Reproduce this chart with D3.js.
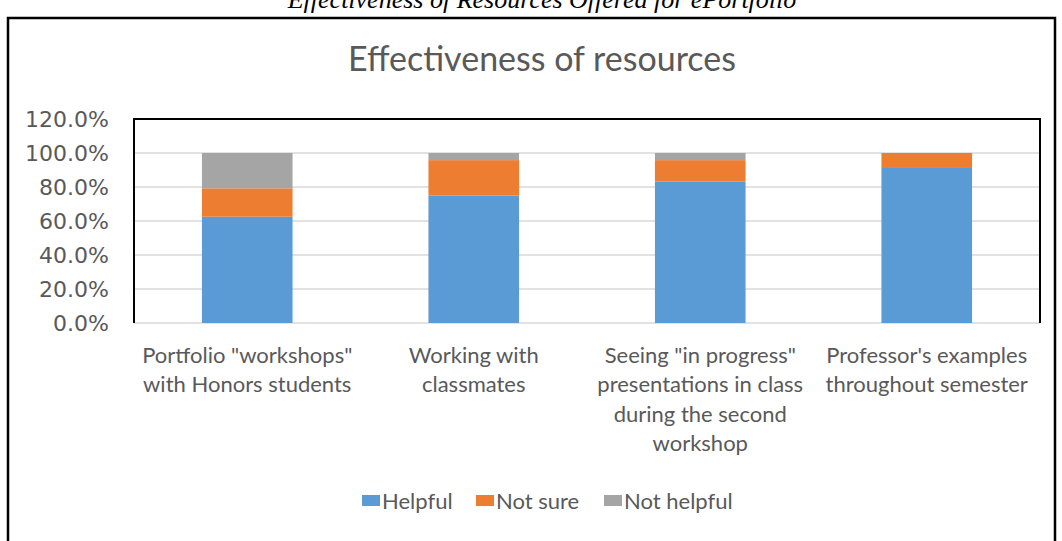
<!DOCTYPE html>
<html>
<head>
<meta charset="utf-8">
<script src="https://cdn.jsdelivr.net/npm/d3@7"></script>
<style>
  body { margin: 0; background: #fff; }
  svg { display: block; }
</style>
</head>
<body>
<div class="container"></div>
<script>
const categories = [
    ["Portfolio \"workshops\"", "with Honors students"],
    ["Working with", "classmates"],
    ["Seeing \"in progress\"", "presentations in class", "during the second", "workshop"],
    ["Professor's examples", "throughout semester"]
];
const seriesNames = ["Helpful", "Not sure", "Not helpful"];
const helpful = [0.625, 0.75, 0.833, 0.917];
const notSure = [0.167, 0.208, 0.125, 0.083];
const notHelpful = [0.208, 0.042, 0.042, 0];
const yTicks = [0, 0.2, 0.4, 0.6, 0.8, 1.0, 1.2];
const colors = ["#5B9BD5", "#ED7D31", "#A5A5A5"];

const width = 1062, height = 541;
const plot = {left: 134, right: 1040, top: 119, bottom: 323};

const svg = d3.select('.container').append('svg').attr('width', width).attr('height', height);

// caption, cut off at the top of the page like in the source
svg.append('text').attr('x', 542).attr('y', 8).attr('text-anchor', 'middle')
    .style('font-family', '"Liberation Serif", serif').style('font-style', 'italic').style('font-size', '26px')
    .attr('fill', '#000').text('Effectiveness of Resources Offered for ePortfolio');

// outer frame
svg.append('path').attr('d', `M8,${height + 5} V18 H1055 V${height + 5}`)
    .attr('fill', 'none').attr('stroke', '#000').attr('stroke-width', 2.5);

svg.append('text').attr('x', 542).attr('y', 71).attr('text-anchor', 'middle')
    .style('font-family', 'Lato, sans-serif').style('font-size', '34px')
    .attr('fill', '#595959').text('Effectiveness of resources');

const x = d3.scaleBand().domain(d3.range(categories.length))
    .range([plot.left, plot.right]).paddingInner(0.6).paddingOuter(0.3);
const y = d3.scaleLinear().domain([0, 1.2]).range([plot.bottom, plot.top]);

// gridlines
svg.append('g').selectAll('line').data(yTicks.slice(0, -1)).enter().append('line')
    .attr('x1', plot.left).attr('x2', plot.right)
    .attr('y1', d => y(d)).attr('y2', d => y(d))
    .attr('stroke', '#D9D9D9').attr('stroke-width', 1.5);

const rows = categories.map((c, i) => ({i, Helpful: helpful[i], "Not sure": notSure[i], "Not helpful": notHelpful[i]}));
const stacked = d3.stack().keys(seriesNames)(rows);

svg.append('g').selectAll('g').data(stacked).enter().append('g')
    .attr('fill', (d, i) => colors[i])
    .selectAll('rect').data(d => d).enter().append('rect')
    .attr('x', d => x(d.data.i)).attr('width', x.bandwidth())
    .attr('y', d => y(d[1])).attr('height', d => y(d[0]) - y(d[1]));

// plot border (top, left, right)
svg.append('path').attr('d', `M${plot.left},${plot.bottom} V${plot.top} H${plot.right} V${plot.bottom}`)
    .attr('fill', 'none').attr('stroke', '#000').attr('stroke-width', 2);

const yAxis = svg.append('g').attr('transform', `translate(${plot.left},0)`)
    .call(d3.axisLeft(y).tickValues(yTicks).tickFormat(d3.format('.1%')).tickSize(0).tickPadding(25));
yAxis.select('.domain').remove();
yAxis.selectAll('text').style('font-family', '"DejaVu Sans", sans-serif').style('font-size', '22px').attr('fill', '#595959');

// category labels
const catG = svg.append('g').selectAll('text').data(categories).enter().append('text')
    .attr('text-anchor', 'middle')
    .style('font-family', 'Lato, sans-serif').style('font-size', '22px').attr('fill', '#595959');
catG.selectAll('tspan').data((d, i) => d.map(t => ({t, i}))).enter().append('tspan')
    .attr('x', d => x(d.i) + x.bandwidth() / 2)
    .attr('y', (d, j) => 363 + j * 29.3)
    .text(d => d.t);

// legend
const legendX = [362, 476, 604];
const legend = svg.append('g').selectAll('g').data(seriesNames).enter().append('g')
    .attr('transform', (d, i) => `translate(${legendX[i]},0)`);
legend.append('rect').attr('y', 495).attr('width', 18).attr('height', 11).attr('fill', (d, i) => colors[i]);
legend.append('text').attr('x', 20).attr('y', 509)
    .style('font-family', 'Lato, sans-serif').style('font-size', '22px').attr('fill', '#595959')
    .text(d => d);
</script>
</body>
</html>
